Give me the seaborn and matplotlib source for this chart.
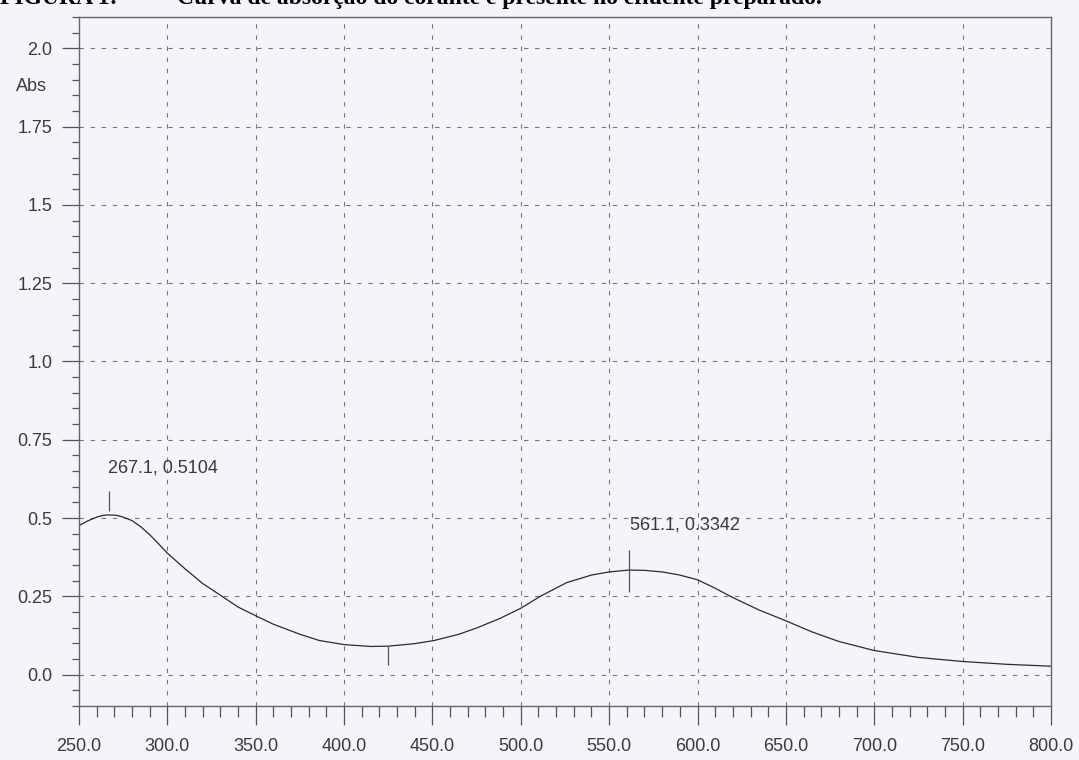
import numpy as np
import pandas as pd
import seaborn as sns
import matplotlib.pyplot as plt
from matplotlib.ticker import MultipleLocator, FixedLocator, FixedFormatter
import matplotlib.transforms as mtransforms

# absorbance spectrum
wavelength = [250, 255, 260, 264, 267, 271, 275, 280, 285, 290, 295, 300, 310,
              320, 331, 340, 350, 360, 375, 386, 400, 415, 425, 440, 451, 465,
              475, 488, 500, 511, 526, 540, 550, 561, 570, 580, 590, 600, 610,
              620, 635, 650, 665, 680, 700, 725, 750, 775, 800]
absorbance = [0.476, 0.491, 0.503, 0.509, 0.510, 0.509, 0.503, 0.492, 0.472,
              0.447, 0.418, 0.388, 0.338, 0.291, 0.250, 0.216, 0.188, 0.161,
              0.129, 0.109, 0.096, 0.090, 0.091, 0.099, 0.109, 0.129, 0.149,
              0.179, 0.212, 0.250, 0.294, 0.318, 0.328, 0.334, 0.333, 0.328,
              0.318, 0.303, 0.276, 0.246, 0.206, 0.172, 0.136, 0.106, 0.077,
              0.055, 0.042, 0.033, 0.027]

peak_wl = [267.1, 561.1]
peak_abs = [0.5104, 0.3342]
valley_wl = [424.8]
valley_abs = [0.091]

xticks = [250, 300, 350, 400, 450, 500, 550, 600, 650, 700, 750, 800]
yticks = [0.0, 0.25, 0.5, 0.75, 1.0, 1.25, 1.5, 1.75, 2.0]
ytick_labels = ["0.0", "0.25", "0.5", "0.75", "1.0", "1.25", "1.5", "1.75", "2.0"]

df = pd.DataFrame({"wl": wavelength, "abs": absorbance})

sns.set_style("ticks")
plt.rcParams['font.family'] = ['Liberation Sans', 'DejaVu Sans']

bg = "#f3f5fa"
ink = "#3a3a3a"
fig = plt.figure(figsize=(10.79, 7.6), dpi=100, facecolor=bg)
ax = fig.add_axes([0.0732, 0.0711, 0.9008, 0.9065], facecolor=bg)

sns.lineplot(data=df, x="wl", y="abs", ax=ax, color="#2b2b2b", linewidth=0.9)

# peak / valley marks
for w, a in zip(peak_wl, peak_abs):
    ax.text(w - 0.5 if w < 400 else w + 0.5, a + (0.15 if w < 400 else 0.145),
            f"{w:.1f}, {a:.4f}", fontsize=13, color=ink, ha="left", va="center")
ax.vlines(peak_wl[0], peak_abs[0] + 0.012, peak_abs[0] + 0.075, color="#555", lw=0.9)
ax.vlines(peak_wl[1], peak_abs[1] - 0.07, peak_abs[1] + 0.065, color="#555", lw=0.9)
ax.vlines(valley_wl, [v - 0.06 for v in valley_abs], valley_abs, color="#555", lw=0.9)

ax.set_xlim(250, 800)
ax.set_ylim(-0.1, 2.1)
ax.xaxis.set_major_locator(FixedLocator(xticks))
ax.xaxis.set_major_formatter(FixedFormatter([f"{t:.1f}" for t in xticks]))
ax.xaxis.set_minor_locator(MultipleLocator(10))
ax.yaxis.set_major_locator(FixedLocator(yticks))
ax.yaxis.set_major_formatter(FixedFormatter(ytick_labels))
ax.yaxis.set_minor_locator(MultipleLocator(0.05))

ax.tick_params(axis="x", which="major", length=14, width=0.9, color="#555",
               labelsize=13, labelcolor=ink, pad=9)
ax.tick_params(axis="x", which="minor", length=8, width=0.9, color="#555")
ax.tick_params(axis="y", which="major", length=12, width=0.9, color="#555",
               labelsize=13, labelcolor=ink, pad=7)
ax.tick_params(axis="y", which="minor", length=5, width=0.9, color="#555")

ax.grid(True, which="major", color="#777", linestyle=(0, (4, 6)), linewidth=0.8)
for s in ax.spines.values():
    s.set_visible(True)
    s.set_color("#666")
    s.set_linewidth(1.0)

ax.set_xlabel("")
ax.set_ylabel("")
trans = mtransforms.blended_transform_factory(ax.transAxes, ax.transData)
ax.text(-0.049, 1.877, "Abs", transform=trans, fontsize=13, color=ink,
        ha="center", va="center")

# caption, mostly cut off by the top of the scan
cap_y = 1 - 4 / 760
fig.text(0.0, cap_y, "FIGURA 1:", family=["Liberation Serif", "DejaVu Serif"],
         fontweight="bold", fontsize=17, color="black", ha="left", va="baseline")
fig.text(177 / 1079, cap_y,
         "Curva de absorção do corante e presente no efluente preparado.",
         family=["Liberation Serif", "DejaVu Serif"], fontweight="bold", fontsize=17,
         color="black", ha="left", va="baseline")

fig.savefig("out.png", dpi=100, facecolor=bg)
